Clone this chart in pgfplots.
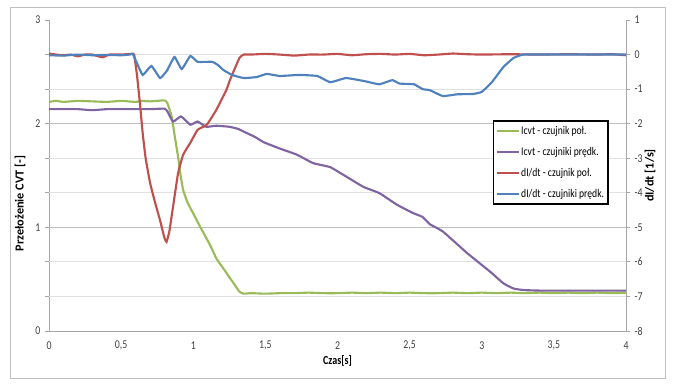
\documentclass[border=0pt]{standalone}
\usepackage{pgfplots}
\pgfplotsset{compat=1.18}
\usepackage{fontspec}
\setmainfont{Carlito}
\newfontfamily\narrowfont{Carlito}[FakeStretch=0.82]
\definecolor{cgreen}{HTML}{9BBB59}
\definecolor{cpurple}{HTML}{8064A2}
\definecolor{cred}{HTML}{C0504D}
\definecolor{cblue}{HTML}{4F81BD}
\definecolor{axgray}{HTML}{A6A6A6}
\definecolor{gridlight}{HTML}{E0E0E0}
\definecolor{griddark}{HTML}{BFBFBF}
\definecolor{tlab}{HTML}{404040}

\pgfplotstableread{
t v
0 2.21
0.05 2.22
0.1 2.21
0.2 2.22
0.3 2.215
0.4 2.21
0.5 2.22
0.55 2.215
0.6 2.21
0.65 2.22
0.7 2.215
0.75 2.22
0.8 2.225
0.82 2.2
0.85 2.07
0.875 1.85
0.895 1.68
0.91 1.52
0.93 1.36
0.96 1.24
0.99 1.16
1.05 1.0
1.12 0.82
1.16 0.70
1.2 0.62
1.24 0.54
1.28 0.46
1.32 0.38
1.35 0.36
1.4 0.365
1.5 0.36
1.6 0.365
1.7 0.365
1.8 0.37
1.9 0.365
2.0 0.365
2.1 0.37
2.2 0.365
2.3 0.37
2.4 0.365
2.5 0.37
2.6 0.365
2.7 0.365
2.8 0.37
2.9 0.365
3.0 0.37
3.1 0.365
3.2 0.37
3.3 0.365
3.4 0.37
3.5 0.365
3.6 0.37
3.7 0.365
3.8 0.37
3.9 0.365
4.0 0.37
}\green

\pgfplotstableread{
t v
0 2.14
0.1 2.14
0.2 2.14
0.3 2.13
0.4 2.14
0.5 2.14
0.6 2.14
0.7 2.14
0.8 2.145
0.82 2.12
0.86 2.02
0.915 2.07
0.98 1.99
1.03 2.02
1.09 1.97
1.16 1.98
1.25 1.97
1.31 1.95
1.37 1.91
1.43 1.87
1.49 1.82
1.6 1.76
1.72 1.70
1.83 1.62
1.95 1.58
2.06 1.49
2.18 1.39
2.29 1.33
2.41 1.22
2.52 1.14
2.59 1.10
2.64 1.03
2.73 0.96
2.9 0.75
3.06 0.57
3.15 0.46
3.22 0.41
3.29 0.395
3.4 0.39
3.6 0.39
3.8 0.39
4.0 0.39
}\purple

\pgfplotstableread{
t d
0 0.03
0.05 0
0.1 -0.02
0.15 0
0.2 -0.05
0.25 0
0.3 0
0.37 -0.08
0.42 0
0.5 0
0.57 0.02
0.59 0
0.61 -0.6
0.63 -1.4
0.65 -2.3
0.67 -3.0
0.70 -3.7
0.73 -4.2
0.77 -4.8
0.80 -5.3
0.815 -5.42
0.835 -5.1
0.86 -4.4
0.895 -3.43
0.93 -2.9
0.98 -2.55
1.03 -2.18
1.08 -2.07
1.1 -2.0
1.16 -1.6
1.23 -1.02
1.255 -0.73
1.32 -0.1
1.35 0
1.4 0
1.5 0.02
1.6 0
1.7 -0.03
1.8 0
1.9 0
2.0 0.02
2.1 -0.02
2.2 0.01
2.3 0.02
2.4 0
2.5 0.02
2.6 -0.02
2.7 0
2.8 0.03
2.9 0.01
3.0 0
3.2 0.01
3.4 0
3.6 0.01
3.8 0
3.9 0.01
4.0 -0.02
}\red

\pgfplotstableread{
t d
0 -0.02
0.1 -0.03
0.2 0
0.3 -0.02
0.4 -0.01
0.5 -0.02
0.56 0
0.58 0.02
0.61 -0.25
0.65 -0.59
0.71 -0.33
0.77 -0.68
0.82 -0.45
0.87 -0.07
0.92 -0.42
0.98 -0.04
1.03 -0.21
1.13 -0.21
1.17 -0.3
1.21 -0.45
1.27 -0.59
1.35 -0.68
1.44 -0.65
1.51 -0.56
1.6 -0.62
1.73 -0.59
1.86 -0.62
1.95 -0.8
2.06 -0.68
2.2 -0.78
2.29 -0.86
2.38 -0.74
2.43 -0.84
2.53 -0.86
2.59 -1.0
2.64 -1.03
2.73 -1.2
2.83 -1.15
2.94 -1.14
3.0 -1.08
3.07 -0.8
3.15 -0.36
3.22 -0.1
3.29 0
3.5 0
3.7 0
4.0 0
}\blue

\begin{document}
\begin{tikzpicture}
\useasboundingbox (-36.75pt,-40.5pt) rectangle (468pt,248.25pt);
\draw[color=griddark, line width=0.6pt] (-29.25pt,-35.25pt) rectangle (462pt,243pt);
\begin{axis}[
  at={(0pt,0pt)}, anchor=south west,
  scale only axis, width=432.75pt, height=233.25pt,
  xmin=0, xmax=4, ymin=0, ymax=3,
  axis x line=bottom, axis y line=left,
  axis line style={-, draw=axgray, line width=0.6pt},
  tick align=outside,
  xtick={0,0.5,1,1.5,2,2.5,3,3.5,4},
  xticklabels={0,{0,5},1,{1,5},2,{2,5},3,{3,5},4},
  xtick style={draw=none},
  ytick={0,1,2,3},
  yticklabels={0,1,2,3},
  ytick style={draw=axgray, line width=0.6pt},
  major tick length=3pt,
  ticklabel style={font=\narrowfont\fontsize{9}{9}\selectfont, text=tlab},
  xticklabel style={anchor=center, yshift=-8pt},
  extra y ticks={0.33333,0.66667,1.33333,1.66667,2.33333,2.66667},
  extra y tick labels={},
  extra y tick style={grid=major, major grid style={draw=gridlight, line width=0.8pt}, tick style={draw=none}},
  xlabel={Czas[s]},
  xlabel style={font=\narrowfont\bfseries\fontsize{9.2}{9.2}\selectfont, at={(axis description cs:0.5,0)}, anchor=center, yshift=-22.5pt},
  ylabel={Przełożenie CVT [-]},
  ylabel style={font=\bfseries\fontsize{9.2}{9.2}\selectfont, at={(axis description cs:0,0.41)}, anchor=center, rotate=0, yshift=21.75pt},
  clip=false,
]
\draw[griddark, line width=0.8pt] (axis cs:0,1) -- (axis cs:4,1);
\draw[griddark, line width=0.8pt] (axis cs:0,2) -- (axis cs:4,2);
\addplot[cgreen, line width=1.6pt, smooth, tension=0.25] table[x=t,y=v] {\green};
\addplot[cpurple, line width=1.6pt, smooth, tension=0.25] table[x=t,y=v] {\purple};
\end{axis}
\begin{axis}[
  at={(0pt,0pt)}, anchor=south west,
  scale only axis, width=432.75pt, height=233.25pt,
  xmin=0, xmax=4, ymin=-8, ymax=1,
  axis x line=none, axis y line=right,
  axis line style={-, draw=axgray, line width=0.6pt},
  tick align=outside,
  ytick={-8,-7,-6,-5,-4,-3,-2,-1,0,1},
  yticklabels={-8,-7,-6,-5,-4,-3,-2,-1,0,1},
  ytick style={draw=axgray, line width=0.6pt},
  major tick length=3pt,
  ticklabel style={font=\narrowfont\fontsize{9}{9}\selectfont, text=tlab},
  ylabel={dI/dt [1/s]},
  ylabel style={font=\bfseries\fontsize{9.2}{9.2}\selectfont, at={(axis description cs:1,0.5)}, anchor=center, yshift=-18pt},
  legend image code/.code={\draw[#1] (0pt,0pt) -- (16pt,0pt);},
  legend cell align=left,
  legend style={at={(rel axis cs:0.7695,0.678)}, anchor=north west, draw=black, line width=1.1pt,
    inner xsep=2pt, inner ysep=2.5pt, row sep=5.75pt,
    font=\narrowfont\fontsize{8.8}{9}\selectfont,
    nodes={inner sep=1pt, text height=6.5pt, text depth=1.5pt}},
]
\addlegendimage{cgreen, line width=1.6pt}
\addlegendentry{Icvt - czujnik poł.}
\addlegendimage{cpurple, line width=1.6pt}
\addlegendentry{Icvt - czujniki prędk.}
\addplot[cred, line width=1.6pt, smooth, tension=0.25] table[x=t,y=d] {\red};
\addlegendentry{dI/dt - czujnik poł.}
\addplot[cblue, line width=1.6pt, smooth, tension=0.25] table[x=t,y=d] {\blue};
\addlegendentry{dI/dt - czujniki prędk.}
\end{axis}
\end{tikzpicture}
\end{document}
